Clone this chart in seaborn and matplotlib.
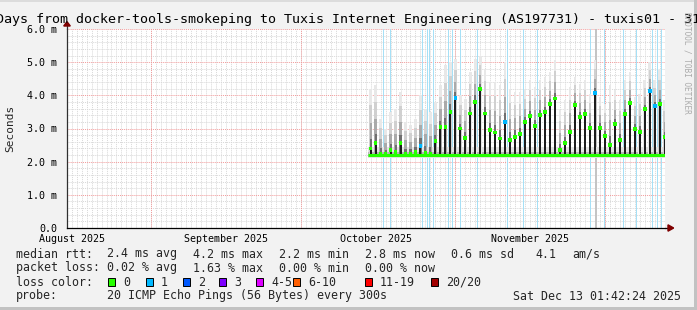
import numpy as np
import pandas as pd
import matplotlib
matplotlib.use("Agg")
import matplotlib.pyplot as plt
import matplotlib.dates as mdates
from matplotlib.patches import Rectangle, Polygon
import seaborn as sns

# ---------------- data ----------------
x_start = "2025-08-15 01:42"
x_end = "2025-12-13 01:42"
month_starts = ["2025-09-01", "2025-10-01", "2025-11-01", "2025-12-01"]
month_label_dates = ["2025-08-16", "2025-09-16", "2025-10-16", "2025-11-16"]
month_labels = ["August 2025", "September 2025", "October 2025", "November 2025"]
y_ticks = [0, 1, 2, 3, 4, 5, 6]
y_tick_labels = ["0.0", "1.0 m", "2.0 m", "3.0 m", "4.0 m", "5.0 m", "6.0 m"]

data_start = "2025-10-14 12:00"
spike_first_day = "2025-10-15"
median_peak = [2.40, 2.56, 2.25, 2.25, 2.35, 2.30, 2.56, 2.25, 2.25, 2.30,
               2.47, 2.28, 2.25, 2.62, 3.05, 3.05, 3.50, 3.92, 3.00, 2.72,
               3.45, 3.80, 4.20, 3.45, 2.95, 2.88, 2.70, 3.20, 2.65, 2.74,
               2.83, 3.20, 3.38, 3.08, 3.41, 3.50, 3.74, 3.90, 2.35, 2.56,
               2.89, 3.71, 3.35, 3.44, 3.02, 4.07, 3.02, 2.77, 2.50, 3.14,
               2.65, 3.44, 3.77, 2.98, 2.89, 3.59, 4.13, 3.68, 3.74, 2.74]
smoke_top = [4.20, 4.30, 3.30, 3.00, 3.50, 3.60, 4.10, 3.20, 3.10, 3.30,
             4.00, 3.60, 3.50, 3.80, 4.30, 4.90, 5.00, 5.10, 4.00, 3.90,
             4.70, 5.10, 5.20, 4.80, 4.40, 4.40, 4.30, 5.00, 4.20, 4.10,
             4.10, 4.15, 4.45, 4.25, 4.45, 4.55, 4.70, 5.06, 3.55, 3.85,
             4.25, 4.55, 4.35, 4.45, 4.05, 5.06, 3.95, 3.75, 4.30, 4.15,
             3.85, 4.45, 4.70, 3.95, 4.05, 4.45, 5.00, 4.45, 4.75, 3.85]
peak_loss = [0, 0, 0, 0, 0, 0, 0, 0, 0, 0,
             1, 0, 0, 0, 0, 0, 0, 1, 0, 0,
             0, 0, 0, 0, 0, 0, 0, 1, 0, 0,
             0, 0, 0, 0, 0, 0, 0, 0, 0, 0,
             0, 0, 0, 0, 0, 1, 0, 0, 0, 0,
             0, 0, 0, 0, 0, 0, 1, 1, 0, 0]
baseline_median = 2.2
baseline_smoke = (2.10, 2.45)
baseline_smoke_dense = (2.14, 2.28)

loss1_times = ["2025-10-17 12:00", "2025-10-18 21:00", "2025-10-25 07:00",
               "2025-10-26 08:00", "2025-10-26 17:00", "2025-10-27 12:00",
               "2025-10-30 13:00", "2025-10-31 08:00", "2025-11-01 23:00",
               "2025-11-05 08:00", "2025-11-11 09:00", "2025-11-14 14:00",
               "2025-11-17 09:00", "2025-11-28 01:00", "2025-11-30 20:00",
               "2025-12-04 16:00", "2025-12-07 06:00", "2025-12-10 12:00",
               "2025-12-11 12:00", "2025-12-12 07:00"]
unknown_times = ["2025-11-29 01:00"]

legend_rows = [
    [("median rtt:", 16), ("2.4 ms avg", 107), ("4.2 ms max", 193),
     ("2.2 ms min", 279), ("2.8 ms now", 365), ("0.6 ms sd", 451),
     ("4.1", 535), ("am/s", 572)],
    [("packet loss:", 16), ("0.02 % avg", 107), ("1.63 % max", 193),
     ("0.00 % min", 279), ("0.00 % now", 365)],
]
loss_labels = ["0", "1", "2", "3", "4-5", "6-10", "11-19", "20/20"]
loss_colors = ["#26ff00", "#00b8ff", "#0059ff", "#7e00ff", "#dd00ff",
               "#ff5e00", "#ff0000", "#a10000"]
loss_box_x = [108, 146, 183, 219, 256, 293, 365, 431]
probe_text = "20 ICMP Echo Pings (56 Bytes) every 300s"
stamp_text = "Sat Dec 13 01:42:24 2025"
title_text = "Days from docker-tools-smokeping to Tuxis Internet Engineering (AS197731) - tuxis01 - 31"

# ---------------- figure ----------------
sns.set_style("white")
MONO = ["DejaVu Sans Mono"]
plt.rcParams["font.family"] = MONO

W, H = 697, 310
fig = plt.figure(figsize=(W / 100, H / 100), dpi=100)
fig.patch.set_facecolor("#f2f2f2")

def fx(px):
    return px / W

def fy(py):
    return 1 - py / H

L, R, T, B = 67, 665, 29, 228
ax = fig.add_axes([fx(L), fy(B), (R - L) / W, (B - T) / H])
ax.set_facecolor("white")

def dn(s):
    return mdates.date2num(pd.Timestamp(s))

x0, x1 = dn(x_start), dn(x_end)
ax.set_xlim(x0, x1)
ax.set_ylim(0, 6)

# grid
dot = (0, (1, 1))
for d in pd.date_range("2025-08-16", "2025-12-12", freq="D"):
    ax.axvline(mdates.date2num(d), color="#d8d8d8", lw=0.7, ls=dot, zorder=1)
for yv in np.arange(0.2, 6.0, 0.2):
    if abs(yv - round(yv)) > 1e-6:
        ax.axhline(yv, color="#d8d8d8", lw=0.7, ls=dot, zorder=1)
for yv in y_ticks[1:]:
    ax.axhline(yv, color="#f29a9a", lw=0.7, ls=dot, zorder=1.2)
for m in month_starts:
    ax.axvline(dn(m), color="#f29a9a", lw=0.7, ls=dot, zorder=1.2)

# loss background
step = 0.2
for t in loss1_times:
    ax.axvspan(dn(t), dn(t) + step, color="#a6e0f6", lw=0, zorder=2)
for t in unknown_times:
    ax.axvspan(dn(t), dn(t) + 0.35, color="#c4c4c4", lw=0, zorder=2)

# baseline smoke
xs0 = dn(data_start)
ax.fill_between([xs0, x1], baseline_smoke[0], baseline_smoke[1], color="#e4e4e4", lw=0, zorder=2.5)
ax.fill_between([xs0, x1], baseline_smoke_dense[0], baseline_smoke_dense[1], color="#b8b8b8", lw=0, zorder=2.6)

# spikes (smoke gradient)
days = pd.date_range(spike_first_day, periods=len(median_peak), freq="D")
sx = mdates.date2num(days.to_pydatetime())
med = np.array(median_peak)
top = np.array(smoke_top)
layers = [(1.00, "#e8e8e8", 0.50),
          (0.72, "#d0d0d0", 0.48),
          (0.42, "#aaaaaa", 0.45),
          (0.15, "#707070", 0.42)]
for k, (frac, col, wd) in enumerate(layers):
    lvl = med + frac * (top - med)
    ax.bar(sx, lvl - baseline_median, bottom=baseline_median, width=wd,
           color=col, lw=0, zorder=3 + 0.05 * k)
ax.bar(sx, med - baseline_median, bottom=baseline_median, width=0.4,
       color="#1c1c1c", lw=0, zorder=3.3)

# median line
ax.plot([xs0, x1], [baseline_median, baseline_median], color="#26ff00", lw=2.2,
        solid_capstyle="butt", zorder=4)
df = pd.DataFrame({"t": sx, "median": med, "loss": peak_loss})
sns.scatterplot(data=df, x="t", y="median", hue="loss",
                palette={0: loss_colors[0], 1: loss_colors[1]},
                marker="s", s=7, linewidth=0, legend=False, ax=ax, zorder=5)
ax.set_xlabel("")
ax.set_ylabel("")

# axes / ticks
for s in ["top", "right"]:
    ax.spines[s].set_visible(False)
ax.spines["left"].set_color("#303030")
ax.spines["bottom"].set_color("#000000")
ax.spines["left"].set_linewidth(0.9)
ax.spines["bottom"].set_linewidth(0.9)
ax.spines["left"].set_zorder(6)
ax.spines["bottom"].set_zorder(6)

ax.set_yticks(y_ticks)
ax.set_yticklabels(y_tick_labels)
ax.set_yticks(np.arange(0.2, 6.0, 0.2), minor=True)
ax.set_xticks([dn(d) for d in month_label_dates])
ax.set_xticklabels(month_labels)
ax.set_xticks([dn(m) for m in month_starts], minor=True)
ax.tick_params(axis="x", which="major", length=0, pad=4, labelsize=7.2, colors="#000000")
ax.tick_params(axis="x", which="minor", length=4, direction="inout", width=0.7, color="#000000")
ax.tick_params(axis="y", which="major", length=4, direction="inout", width=0.7, pad=5,
               labelsize=7.2, colors="#000000")
ax.tick_params(axis="y", which="minor", length=2, direction="inout", width=0.6, color="#303030")
for lab in ax.get_xticklabels() + ax.get_yticklabels():
    lab.set_family(MONO)

# axis extension arrows
ax.plot([1.0, 1.006], [0, 0], transform=ax.transAxes, color="#000000", lw=0.9, clip_on=False, zorder=6)
ax.add_patch(Polygon([[1.005, 0.016], [1.005, -0.016], [1.0145, 0]], closed=True,
                     transform=ax.transAxes, color="#7f0000", clip_on=False, zorder=7))
ax.plot([0, 0], [1.0, 1.015], transform=ax.transAxes, color="#303030", lw=0.9, clip_on=False, zorder=6)
ax.add_patch(Polygon([[-0.0055, 1.015], [0.0055, 1.015], [0, 1.037]], closed=True,
                     transform=ax.transAxes, color="#7f0000", clip_on=False, zorder=7))

# texts
fig.text(fx(-4), fy(19), title_text, ha="left", va="center", fontsize=9.6, family=MONO, color="#000000")
fig.text(fx(10.5), fy(128.5), "Seconds", rotation=90, ha="center", va="center", fontsize=8, family=MONO)
fig.text(fx(687), fy(12), "RRDTOOL / TOBI OETIKER", rotation=270, ha="center", va="top",
         fontsize=5.6, family=MONO, color="#ababab")

row_y = [254, 268, 282, 296]
for r, row in enumerate(legend_rows):
    for txt, px in row:
        fig.text(fx(px), fy(row_y[r]), txt, ha="left", va="center", fontsize=8.4, family=MONO)
fig.text(fx(16), fy(row_y[2]), "loss color:", ha="left", va="center", fontsize=8.4, family=MONO)
for lab, col, bx in zip(loss_labels, loss_colors, loss_box_x):
    fig.add_artist(Rectangle((fx(bx), fy(row_y[2] + 4)), 7 / W, 8 / H, transform=fig.transFigure,
                             facecolor=col, edgecolor="#000000", lw=0.7))
    fig.text(fx(bx + 15), fy(row_y[2]), lab, ha="left", va="center", fontsize=8.4, family=MONO)
fig.text(fx(16), fy(row_y[3]), "probe:", ha="left", va="center", fontsize=8.4, family=MONO)
fig.text(fx(107), fy(row_y[3]), probe_text, ha="left", va="center", fontsize=8.4, family=MONO)
fig.text(fx(681), fy(row_y[3]), stamp_text, ha="right", va="center", fontsize=8.4, family=MONO)

# frame shading
fig.add_artist(Rectangle((0, fy(2)), 1, 2 / H, transform=fig.transFigure, color="#dcdcdc", lw=0))
fig.add_artist(Rectangle((fx(694), 0), 3 / W, 1, transform=fig.transFigure, color="#c2c2c2", lw=0))
fig.add_artist(Rectangle((0, 0), 1, 3 / H, transform=fig.transFigure, color="#c2c2c2", lw=0))

fig.savefig("out.png", dpi=100, facecolor=fig.get_facecolor())
